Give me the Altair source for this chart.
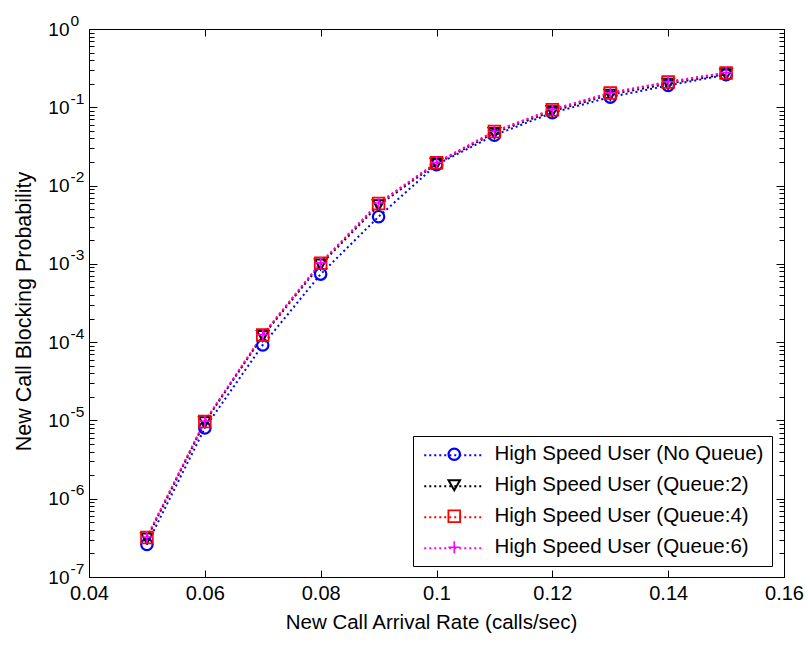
import altair as alt
import pandas as pd

# ---- data ----
arrival_rate = [0.05, 0.06, 0.07, 0.08, 0.09, 0.10, 0.11, 0.12, 0.13, 0.14, 0.15]
p_no_queue = [2.6e-7, 8.0e-6, 9.2e-5, 7.4e-4, 4.0e-3, 1.85e-2, 4.4e-2, 8.5e-2, 0.135, 0.19, 0.26]
p_queue2 = [3.1e-7, 9.5e-6, 1.20e-4, 9.8e-4, 5.6e-3, 1.90e-2, 4.7e-2, 8.9e-2, 0.145, 0.20, 0.265]
p_queue4 = [3.2e-7, 9.7e-6, 1.23e-4, 1.02e-3, 5.9e-3, 1.95e-2, 4.9e-2, 9.3e-2, 0.152, 0.21, 0.275]
p_queue6 = [3.25e-7, 9.8e-6, 1.25e-4, 1.03e-3, 6.0e-3, 1.97e-2, 4.95e-2, 9.4e-2, 0.153, 0.212, 0.277]

series_names = [
    "High Speed User (No Queue)",
    "High Speed User (Queue:2)",
    "High Speed User (Queue:4)",
    "High Speed User (Queue:6)",
]
series_colors = ["#0000ff", "#000000", "#ff0000", "#ff00ff"]
series_shapes = ["circle", "triangle-down", "square", "M-1,0H1M0,-1V1"]
series_sizes = [130, 140, 150, 180]
series_widths = [2.2, 1.6, 3, 2.2]

x_ticks = [0.04, 0.06, 0.08, 0.10, 0.12, 0.14, 0.16]
y_decades = [1e-7, 1e-6, 1e-5, 1e-4, 1e-3, 1e-2, 1e-1, 1]
y_minor = [m * 10.0 ** k for k in range(-7, 0) for m in range(2, 10)]

x_title = "New Call Arrival Rate (calls/sec)"
y_title = "New Call Blocking Probability"

rows = []
for name, vals in zip(series_names, [p_no_queue, p_queue2, p_queue4, p_queue6]):
    for xv, yv in zip(arrival_rate, vals):
        rows.append({"rate": xv, "prob": yv, "series": name})
df = pd.DataFrame(rows)

FONT = "Liberation Sans"
xscale = alt.Scale(domain=[0.04, 0.16], nice=False, zero=False)
yscale = alt.Scale(type="log", domain=[1e-7, 1], nice=False)

MAJ = 8
MIN = 5
XT = 7

x_bottom = alt.Axis(orient="bottom", values=x_ticks, format="~g", tickSize=XT, offset=-XT,
                    domain=False, grid=False, labelFlush=False, labelPadding=6,
                    labelFont=FONT, labelFontSize=20, labelColor="#000", tickColor="#000",
                    title=x_title, titleFont=FONT, titleFontSize=20.5, titleFontWeight="normal",
                    titleColor="#000", titleX=342, titleY=58, titleBaseline="alphabetic",
                    titleAnchor="middle", titleAlign="center")
x_top = alt.Axis(orient="top", values=x_ticks, tickSize=XT, offset=-XT, domain=False,
                 grid=False, labels=False, title=None, tickColor="#000")

y_left_major = alt.Axis(orient="left", values=y_decades, tickSize=MAJ, offset=-MAJ,
                        domain=False, grid=False, labelExpr="'10'", labelAlign="right",
                        labelBaseline="middle", labelPadding=20, labelFont=FONT,
                        labelFontSize=19, labelColor="#000", tickColor="#000",
                        title=y_title, titleFont=FONT, titleFontSize=21.5,
                        titleFontWeight="normal", titleColor="#000", titleX=-73, titleY=282,
                        titleAngle=270, titleBaseline="middle", titleAlign="center")
y_left_minor = alt.Axis(orient="left", values=y_minor, tickSize=MIN, offset=-MIN,
                        domain=False, grid=False, labels=False, title=None, tickColor="#000")
y_left_exp = alt.Axis(orient="left", values=y_decades, ticks=False, tickSize=0, domain=False,
                      grid=False,
                      labelExpr="datum.value >= 0.5 ? '0' : '-' + format(-log(datum.value)/LN10, '.0f')",
                      labelAlign="left", labelBaseline="alphabetic", labelOffset=-4,
                      labelPadding=19, labelFont=FONT, labelFontSize=15.5, labelColor="#000",
                      title=None)
y_right_major = alt.Axis(orient="right", values=y_decades, tickSize=MAJ, offset=-MAJ,
                         domain=False, grid=False, labels=False, title=None, tickColor="#000")
y_right_minor = alt.Axis(orient="right", values=y_minor, tickSize=MIN, offset=-MIN,
                         domain=False, grid=False, labels=False, title=None, tickColor="#000")

# legend with the boxed labels and the markers
point_legend = alt.Legend(orient="none", legendX=324, legendY=407, title=None,
                          labelFont=FONT, labelFontSize=20.5, labelColor="#000",
                          padding=8, rowPadding=10, symbolStrokeWidth=2,
                          symbolFillColor="transparent", symbolOffset=23,
                          labelOffset=30, labelLimit=400, strokeColor="#000",
                          fillColor="#ffffff", zindex=1)
# legend that only adds the dotted line sample through each marker
line_legend = alt.Legend(orient="none", legendX=332, legendY=416, title=None,
                         symbolType="M-6,0H6", symbolSize=100, symbolStrokeWidth=2,
                         symbolDash=[2, 3], labelFont=FONT, labelFontSize=20.5,
                         labelOpacity=0, labelOffset=30, padding=0, rowPadding=10,
                         symbolOffset=23, labelLimit=400, zindex=2)

lines = alt.Chart(df).mark_line(strokeDash=[2, 3], strokeWidth=2).encode(
    x=alt.X("rate:Q", scale=xscale, axis=x_bottom),
    y=alt.Y("prob:Q", scale=yscale, axis=y_left_major),
    color=alt.Color("series:N", scale=alt.Scale(domain=series_names, range=series_colors),
                    legend=line_legend),
)

points = alt.Chart(df).mark_point(filled=False, opacity=1).encode(
    x=alt.X("rate:Q", scale=xscale, axis=x_top),
    y=alt.Y("prob:Q", scale=yscale, axis=y_left_minor),
    color=alt.Color("series:N", scale=alt.Scale(domain=series_names, range=series_colors),
                    legend=point_legend),
    shape=alt.Shape("series:N", scale=alt.Scale(domain=series_names, range=series_shapes),
                    legend=point_legend),
    size=alt.Size("series:N", scale=alt.Scale(domain=series_names, range=series_sizes),
                  legend=point_legend),
    strokeWidth=alt.StrokeWidth("series:N",
                                scale=alt.Scale(domain=series_names, range=series_widths),
                                legend=point_legend),
)

exp_layer = alt.Chart(df).mark_point(opacity=0).encode(
    y=alt.Y("prob:Q", scale=yscale, axis=y_left_exp))
right_major = alt.Chart(df).mark_point(opacity=0).encode(
    y=alt.Y("prob:Q", scale=yscale, axis=y_right_major))
right_minor = alt.Chart(df).mark_point(opacity=0).encode(
    y=alt.Y("prob:Q", scale=yscale, axis=y_right_minor))

chart = alt.layer(lines, points, exp_layer, right_major, right_minor).resolve_scale(
    color="independent", shape="independent", size="independent", strokeWidth="independent"
).resolve_axis(x="independent", y="independent").properties(
    width=695, height=548,
    padding={"left": 89, "top": 29, "right": 25, "bottom": 68},
    autosize=alt.AutoSizeParams(type="none"),
    background="#ffffff",
).configure_view(stroke="#000", strokeWidth=1).configure_axis(grid=False)

chart.save("out.html", embed_options={"renderer": "svg", "actions": False})
